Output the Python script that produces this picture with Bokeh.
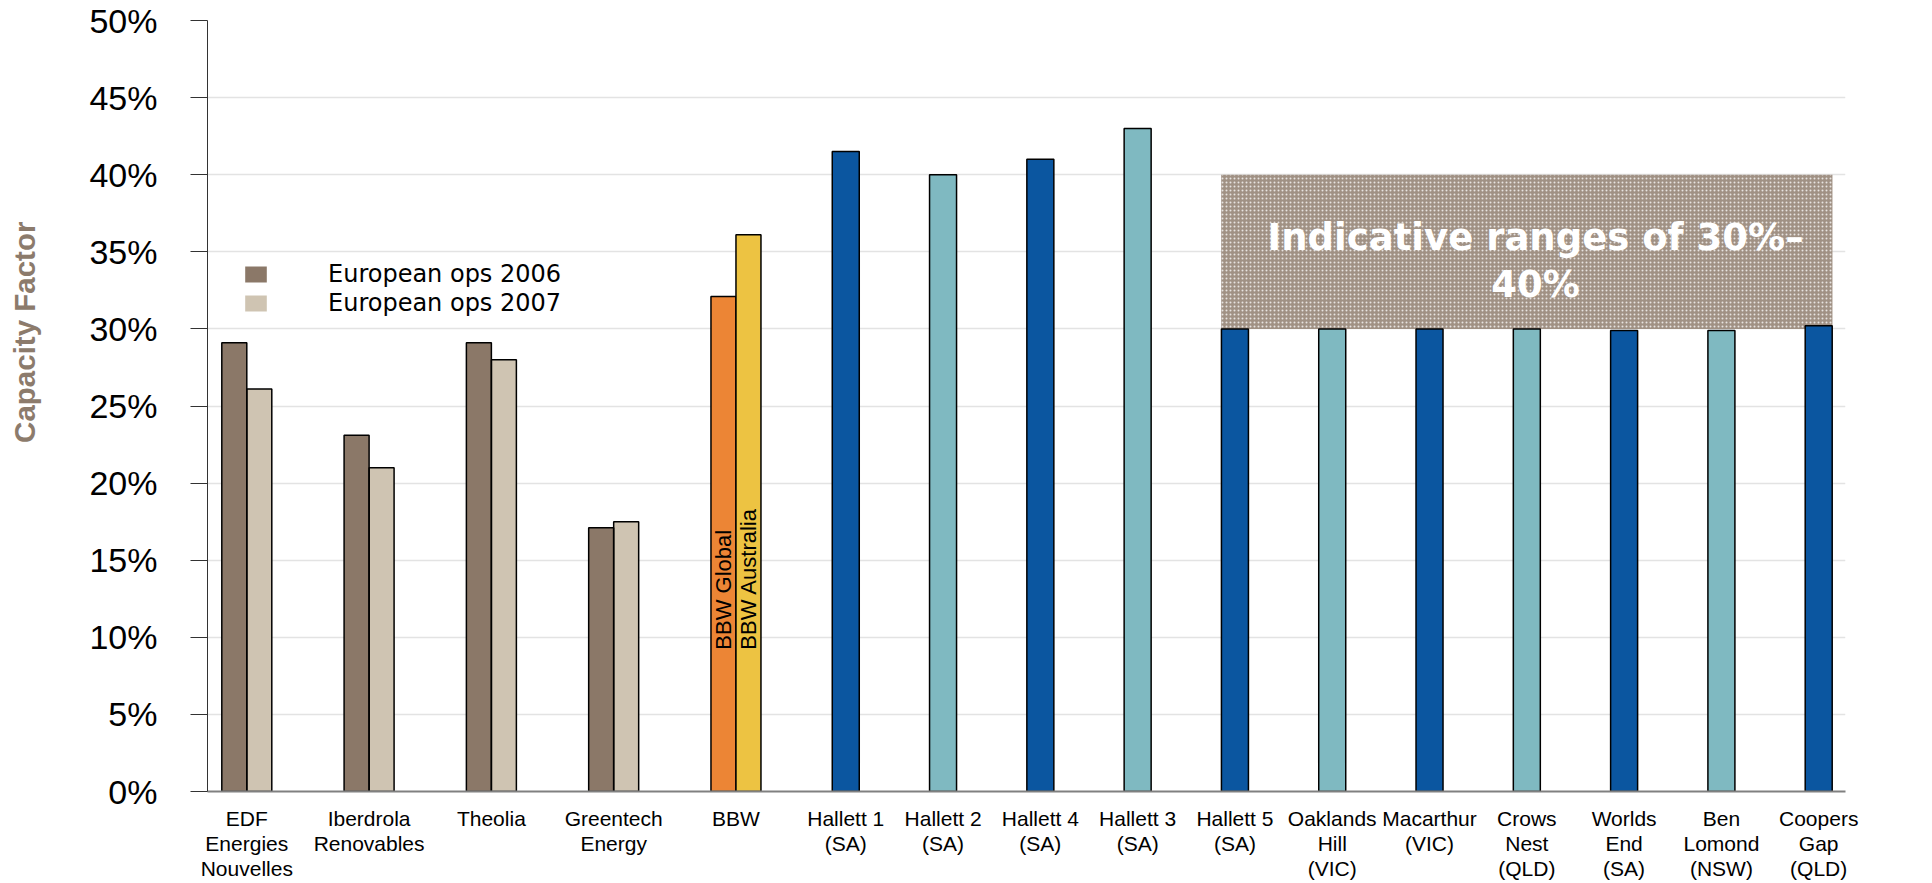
from math import pi
from bokeh.plotting import figure
from bokeh.models import (FactorRange, Range1d, FixedTicker, PrintfTickFormatter,
                          Legend, LegendItem, LinearAxis, ColumnDataSource)
from bokeh.core.properties import value
from bokeh.embed import file_html
from bokeh.resources import INLINE

# ---------------- data ----------------
european_sites = ["EDF\nEnergies\nNouvelles", "Iberdrola\nRenovables", "Theolia", "Greentech\nEnergy"]
ops_2006 = [29.1, 23.1, 29.1, 17.1]
ops_2007 = [26.1, 21.0, 28.0, 17.5]
year_keys = ["2006", "2007"]
legend_labels = ["European ops 2006", "European ops 2007"]

bbw_site = "BBW"
bbw_keys = ["Global", "Australia"]
bbw_series = ["BBW Global", "BBW Australia"]
bbw_values = [32.1, 36.1]

aus_sites = ["Hallett 1\n(SA)", "Hallett 2\n(SA)", "Hallett 4\n(SA)", "Hallett 3\n(SA)",
             "Hallett 5\n(SA)", "Oaklands\nHill\n(VIC)", "Macarthur\n(VIC)", "Crows\nNest\n(QLD)",
             "Worlds\nEnd\n(SA)", "Ben\nLomond\n(NSW)", "Coopers\nGap\n(QLD)"]
aus_values = [41.5, 40.0, 41.0, 43.0, 30.0, 30.0, 30.0, 30.0, 29.9, 29.9, 30.2]

range_low, range_high = 30, 40
range_text = "Indicative ranges of 30%\u2013\n40%"
y_ticks = list(range(0, 51, 5))
y_title = "Capacity Factor"

# ---------------- styles ----------------
C2006, C2007 = "#8b7868", "#cfc4b2"
BBW_COLORS = ["#ec8535", "#edc342"]
DARK, TEAL = "#0b56a0", "#7fb9c1"
aus_colors = [DARK if i % 2 == 0 else TEAL for i in range(len(aus_sites))]

factors = []
for s in european_sites:
    factors += [(s, k) for k in year_keys]
factors += [(bbw_site, k) for k in bbw_keys]
factors += [(s, "") for s in aus_sites]

x_range = FactorRange(factors=factors, factor_padding=0.0, group_padding=2.892,
                      range_padding=0.572, range_padding_units="absolute")

p = figure(width=1932, height=883, x_range=x_range, y_range=Range1d(0, 50),
           output_backend="svg", toolbar_location=None,
           min_border_left=207, min_border_right=87, min_border_top=20, min_border_bottom=92)
p.outline_line_color = None
p.background_fill_color = "white"
p.border_fill_color = "white"

# indicative range box
p.quad(left=[(aus_sites[4], "", -0.55)], right=[(aus_sites[-1], "", 0.55)],
       bottom=[range_low], top=[range_high],
       fill_color="#a09184", line_color=None,
       hatch_pattern="dot", hatch_color="white", hatch_alpha=0.75, hatch_scale=4, hatch_weight=1.2)

# European bars (fill renderers used by the legend, outlines drawn on top)
src06 = ColumnDataSource(dict(x=[(s, year_keys[0]) for s in european_sites], top=ops_2006))
src07 = ColumnDataSource(dict(x=[(s, year_keys[1]) for s in european_sites], top=ops_2007))
r06 = p.vbar(x="x", top="top", bottom=0, width=1.0, source=src06,
             fill_color=C2006, line_color=None)
r07 = p.vbar(x="x", top="top", bottom=0, width=1.0, source=src07,
             fill_color=C2007, line_color=None)
for src in (src06, src07):
    p.vbar(x="x", top="top", bottom=0, width=1.0, source=src,
           fill_color=None, line_color="black", line_width=1.5)

# BBW bars
p.vbar(x=[(bbw_site, k) for k in bbw_keys], top=bbw_values, bottom=0, width=1.0,
       fill_color=BBW_COLORS, line_color="black", line_width=1.5)
p.text(x=[(bbw_site, k) for k in bbw_keys], y=[9.2] * len(bbw_keys), text=bbw_series,
       angle=pi / 2, text_align="left", text_baseline="middle",
       text_font=value("Liberation Sans"), text_font_size="22px", text_color="black")

# Australian bars
p.vbar(x=[(s, "") for s in aus_sites], top=aus_values, bottom=0, width=1.08,
       fill_color=aus_colors, line_color="black", line_width=1.5)

# range text
p.text(x=[(aus_sites[7], "", 0.35)], y=[range_low + 0.44 * (range_high - range_low)],
       text=[range_text], text_align="center", text_baseline="middle",
       text_color="white", text_font=value("DejaVu Sans"), text_font_style="bold",
       text_font_size="37px", text_line_height=1.1)

# axes
p.yaxis.ticker = FixedTicker(ticks=y_ticks)
p.yaxis.formatter = PrintfTickFormatter(format="%d%%")
p.yaxis.major_label_text_font = "Liberation Sans"
p.yaxis.major_label_text_font_size = "34px"
p.yaxis.major_label_text_color = "black"
p.yaxis.major_tick_out = 17
p.yaxis.major_tick_in = 0
p.yaxis.minor_tick_line_color = None
p.yaxis.major_label_standoff = 33
p.yaxis.axis_line_color = "#333333"
p.yaxis.major_tick_line_color = "#333333"

# outer axis only carrying the title; leading no-break spaces lift the title
# above the frame centre, as in the source
title_axis = LinearAxis(ticker=FixedTicker(ticks=[]),
                        axis_line_color=None, major_tick_line_color=None,
                        minor_tick_line_color=None, major_tick_out=0, minor_tick_out=0,
                        major_label_text_font_size="1px",
                        axis_label="\u00a0" * 18 + y_title, axis_label_standoff=46,
                        axis_label_text_font="Liberation Sans",
                        axis_label_text_font_style="bold",
                        axis_label_text_font_size="29.5px",
                        axis_label_text_color="#8c7b6c")
p.add_layout(title_axis, "left")

p.xaxis.major_tick_line_color = None
p.xaxis.minor_tick_line_color = None
p.xaxis.major_label_text_font_size = "1px"
p.xaxis.major_label_text_alpha = 0
p.xaxis.major_label_standoff = 9
p.xaxis.axis_line_color = "#808080"
p.xaxis.axis_line_width = 2
p.xaxis.group_text_font = "Liberation Sans"
p.xaxis.group_text_font_size = "21px"
p.xaxis.group_text_line_height = 1.1
p.xaxis.group_text_font_style = "normal"
p.xaxis.group_text_color = "black"
p.xaxis.separator_line_color = None

p.ygrid.grid_line_color = "#e3e3e3"
p.ygrid.grid_line_width = 1.5
p.xgrid.grid_line_color = None

legend = Legend(items=[LegendItem(label=legend_labels[0], renderers=[r06]),
                       LegendItem(label=legend_labels[1], renderers=[r07])],
                location=(35, 474), padding=0, margin=0, spacing=1,
                glyph_width=27, glyph_height=20, label_standoff=59,
                label_text_font="DejaVu Sans", label_text_font_size="24px",
                label_text_color="black",
                border_line_color=None, background_fill_alpha=0)
p.add_layout(legend)

open("out.html", "w").write(file_html(p, INLINE))
